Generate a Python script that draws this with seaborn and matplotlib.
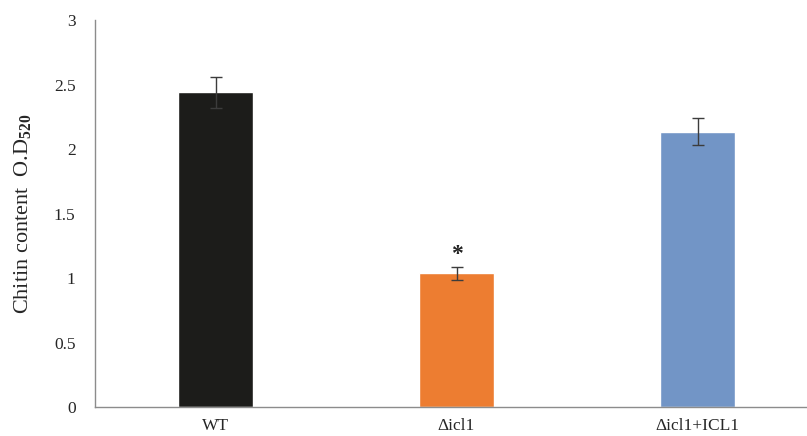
import numpy as np
import pandas as pd
import matplotlib.pyplot as plt
import seaborn as sns

# data
strains = ['WT', '\u0394icl1', '\u0394icl1+ICL1']
chitin = [2.44, 1.035, 2.135]
err = [0.12, 0.05, 0.105]
colors = ['#1c1c1a', '#ED7D31', '#7295C6']

df = pd.DataFrame({'strain': strains, 'chitin': chitin})

sns.set_style('white')
plt.rcParams['font.family'] = ['Liberation Serif', 'DejaVu Serif']
plt.rcParams['mathtext.fontset'] = 'custom'
plt.rcParams['mathtext.rm'] = 'Liberation Serif'
plt.rcParams['mathtext.bf'] = 'Liberation Serif:bold'

fig = plt.figure(figsize=(8.07, 4.36), dpi=100)
ax = fig.add_axes([95 / 807, 1 - 407 / 436, (818 - 95) / 807, (407 - 20) / 436])

sns.barplot(data=df, x='strain', y='chitin', hue='strain', palette=colors,
            width=0.315, legend=False, saturation=1, ax=ax)
ax.errorbar(np.arange(len(strains)), chitin, yerr=err, fmt='none',
            ecolor='#3c3c3c', elinewidth=1, capsize=4, capthick=1)

# significance mark
ax.text(1, chitin[1] + err[1] + 0.1, '*', ha='center', va='center',
        fontsize=17, fontweight='bold', color='#222222')

ax.set_xlim(-0.5, 2.5)
ax.set_ylim(0, 3)
ax.set_yticks([0, 0.5, 1, 1.5, 2, 2.5, 3])
ax.set_yticklabels(['0', '0.5', '1', '1.5', '2', '2.5', '3'])
ax.tick_params(axis='both', length=0, labelsize=12.5)
ax.tick_params(axis='y', pad=14)
ax.tick_params(axis='x', pad=8)
ax.set_xlabel('')
ax.set_ylabel(r'Chitin content  O.D$_{\mathbf{520}}$', fontsize=16, labelpad=14)

sns.despine(ax=ax)
for s in ['left', 'bottom']:
    ax.spines[s].set_color('#8c8c8c')
    ax.spines[s].set_linewidth(1)

fig.savefig('out.png', dpi=100)
